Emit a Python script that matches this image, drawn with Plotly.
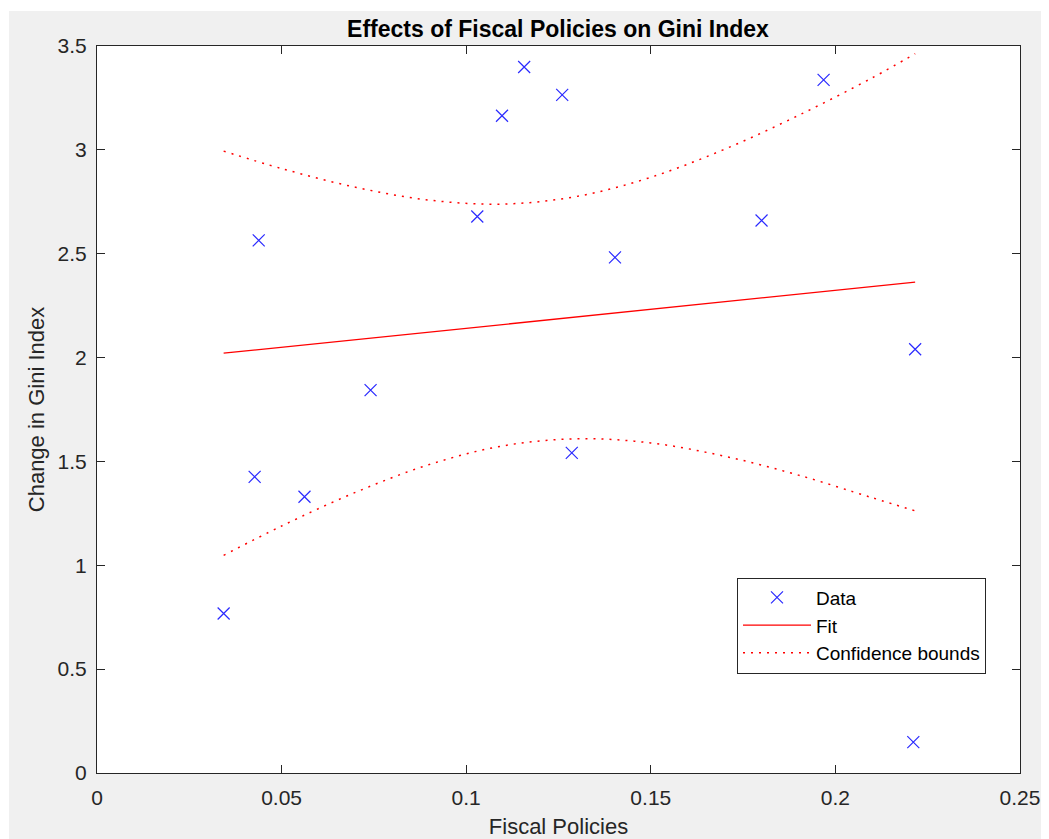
import plotly.graph_objects as go

# Data
fiscal = [0.0343, 0.0427, 0.0438, 0.0562, 0.0741, 0.1030, 0.1097, 0.1157,
          0.1260, 0.1286, 0.1403, 0.1800, 0.1968, 0.2211, 0.2216]
gini_change = [0.768, 1.426, 2.564, 1.330, 1.843, 2.679, 3.164, 3.399,
               3.265, 1.541, 2.482, 2.660, 3.337, 0.149, 2.040]

fit_x = [0.0343, 0.2216]
fit_y = [2.021, 2.363]

bound_x = [0.0343, 0.05, 0.07, 0.09, 0.11, 0.13, 0.15, 0.17, 0.19, 0.21, 0.2216]
upper_y = [2.994, 2.910, 2.820, 2.758, 2.739, 2.776, 2.868, 3.003, 3.166, 3.347, 3.463]
lower_y = [1.048, 1.189, 1.351, 1.485, 1.575, 1.609, 1.589, 1.525, 1.434, 1.325, 1.262]

x_ticks = [0, 0.05, 0.1, 0.15, 0.2, 0.25]
x_tick_text = ["0", "0.05", "0.1", "0.15", "0.2", "0.25"]
y_ticks = [0, 0.5, 1, 1.5, 2, 2.5, 3, 3.5]
y_tick_text = ["0", "0.5", "1", "1.5", "2", "2.5", "3", "3.5"]

FONT = "Liberation Sans, Arial, Helvetica, sans-serif"
AX = "#262626"

W, H = 1049, 839
ML, MR, MT, MB = 89, 37, 38, 72
PW, PH = W - ML - MR, H - MT - MB

fig = go.Figure()
fig.add_trace(go.Scatter(
    x=fiscal, y=gini_change, mode="markers", name="Data",
    marker=dict(symbol="x-thin-open", size=12, color="#2a2aff",
                line=dict(color="#2a2aff", width=1.2)),
))
fig.add_trace(go.Scatter(
    x=fit_x, y=fit_y, mode="lines", name="Fit",
    line=dict(color="#ff0000", width=1.3),
))
fig.add_trace(go.Scatter(
    x=bound_x, y=upper_y, mode="lines", name="Confidence bounds",
    line=dict(color="#ff0000", width=1.5, dash="2px,6px", shape="spline"),
))
fig.add_trace(go.Scatter(
    x=bound_x, y=lower_y, mode="lines", name="Confidence bounds",
    showlegend=False,
    line=dict(color="#ff0000", width=1.5, dash="2px,6px", shape="spline"),
))

axis_common = dict(
    showline=True, linecolor=AX, linewidth=1, mirror="ticks",
    ticks="inside", ticklen=8, tickcolor=AX, tickwidth=1,
    showgrid=False, zeroline=False,
    tickfont=dict(family=FONT, size=21, color=AX),
)

fig.update_layout(
    width=W, height=H,
    margin=dict(l=ML, r=MR, t=MT, b=MB),
    paper_bgcolor="#f0f0f0", plot_bgcolor="white",
    title=dict(text="<b>Effects of Fiscal Policies on Gini Index</b>",
               x=550 / W, xanchor="center", xref="container",
               y=1 - 21 / H, yanchor="middle", yref="container",
               font=dict(family=FONT, size=23, color="black")),
    xaxis=dict(range=[0, 0.25], tickvals=x_ticks, ticktext=x_tick_text,
               ticklabelstandoff=6,
               title=dict(text="Fiscal Policies", standoff=10,
                          font=dict(family=FONT, size=22, color=AX)),
               **axis_common),
    yaxis=dict(range=[0, 3.5], tickvals=y_ticks, ticktext=y_tick_text,
               ticklabelstandoff=5,
               title=dict(text="Change in Gini Index", standoff=6,
                          font=dict(family=FONT, size=22, color=AX)),
               **axis_common),
    legend=dict(x=(737 - 97) / 923, y=(775 - 579) / 729,
                xanchor="left", yanchor="top",
                bgcolor="white", bordercolor=AX, borderwidth=1,
                font=dict(family=FONT, size=19, color="black"),
                itemwidth=68, tracegroupgap=0),
    showlegend=True,
    shapes=[
        dict(type="rect", xref="paper", yref="paper", layer="below",
             x0=-0.2, x1=(1 - ML) / PW, y0=-0.2, y1=1.2,
             fillcolor="white", line=dict(width=0)),
        dict(type="rect", xref="paper", yref="paper", layer="below",
             x0=-0.2, x1=1.2, y0=(PH + MT - 3) / PH, y1=1.2,
             fillcolor="white", line=dict(width=0)),
    ],
)

fig.write_html("out.html")
